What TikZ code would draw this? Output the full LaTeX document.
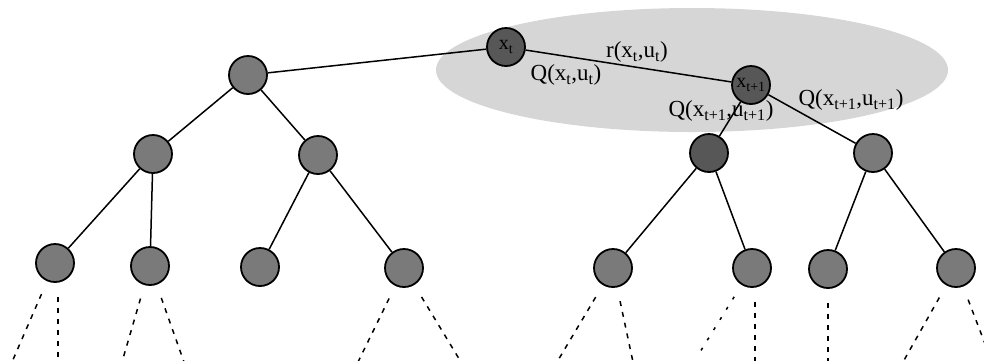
\documentclass[tikz,border=0pt]{standalone}
\usepackage{fontspec}
\setmainfont{Liberation Serif}
\begin{document}
\begin{tikzpicture}[x=1pt,y=-1pt,
  ball/.style={circle,draw=black,line width=1.8pt,fill=black!52,minimum size=38pt,inner sep=0pt,font=\fontsize{20}{22}\selectfont},
  darkball/.style={ball,fill=black!66},
  edge/.style={line width=1.5pt},
  futureedge/.style={line width=1.5pt,dash pattern=on 5pt off 6pt,shorten <=14pt},
  lbl/.style={font=\fontsize{23}{25}\selectfont,inner sep=0pt}]
\useasboundingbox (0,0) rectangle (984,360);
% highlighted region
\fill[black!16] (692,70) ellipse [x radius=256, y radius=62];
% nodes
\node[darkball] (r) at (506,47) {x\textsubscript{t}};
\node[ball] (a) at (248,75) {};
\node[darkball] (b) at (751,85) {x\textsubscript{t+1}};
\node[ball] (a1) at (153,154) {};
\node[ball] (a2) at (318,155) {};
\node[darkball] (b1) at (709,153) {};
\node[ball] (b2) at (873,153) {};
\node[ball] (c1) at (55,263) {};
\node[ball] (c2) at (150,266) {};
\node[ball] (c3) at (260,267) {};
\node[ball] (c4) at (404,268) {};
\node[ball] (c5) at (613,268) {};
\node[ball] (c6) at (752,268) {};
\node[ball] (c7) at (828,269) {};
\node[ball] (c8) at (956,268) {};
% tree edges
\draw[edge] (r) -- (a);
\draw[edge] (r) -- (b);
\draw[edge] (a) -- (a1);
\draw[edge] (a) -- (a2);
\draw[edge] (b) -- (b1);
\draw[edge] (b) -- (b2);
\draw[edge] (a1) -- (c1);
\draw[edge] (a1) -- (c2);
\draw[edge] (a2) -- (c3);
\draw[edge] (a2) -- (c4);
\draw[edge] (b1) -- (c5);
\draw[edge] (b1) -- (c6);
\draw[edge] (b2) -- (c7);
\draw[edge] (b2) -- (c8);
% continuation ends
\coordinate (e1) at (12,362);
\coordinate (e2) at (58,362);
\coordinate (e3) at (122,362);
\coordinate (e4) at (184,362);
\coordinate (e5) at (358,362);
\coordinate (e6) at (461,362);
\coordinate (e7) at (557,362);
\coordinate (e8) at (633,362);
\coordinate (e9) at (700,352);
\coordinate (e10) at (755,362);
\coordinate (e11) at (828,362);
\coordinate (e12) at (903,362);
\coordinate (e13) at (992,362);
\draw[futureedge] (c1) -- (e1);
\draw[futureedge] (c1.south -| e2) -- (e2);
\draw[futureedge] (c2) -- (e3);
\draw[futureedge] (c2) -- (e4);
\draw[futureedge] (c4) -- (e5);
\draw[futureedge] (c4) -- (e6);
\draw[futureedge] (c5) -- (e7);
\draw[futureedge] (c5) -- (e8);
\draw[futureedge,dash pattern=on 3pt off 9pt] (c6) -- (e9);
\draw[futureedge] (c6.south -| e10) -- (e10);
\draw[futureedge] (c7) -- (e11);
\draw[futureedge] (c8) -- (e12);
\draw[futureedge] (c8) -- (e13);
% labels
\node[lbl] (lr) at (637,52) {r(x\textsubscript{t},u\textsubscript{t})};
\node[lbl] (lq) at (566,75) {Q(x\textsubscript{t},u\textsubscript{t})};
\node[lbl] (lq1) at (721,111) {Q(x\textsubscript{t+1},u\textsubscript{t+1})};
\node[lbl] (lq2) at (851,100) {Q(x\textsubscript{t+1},u\textsubscript{t+1})};
\end{tikzpicture}
\end{document}
